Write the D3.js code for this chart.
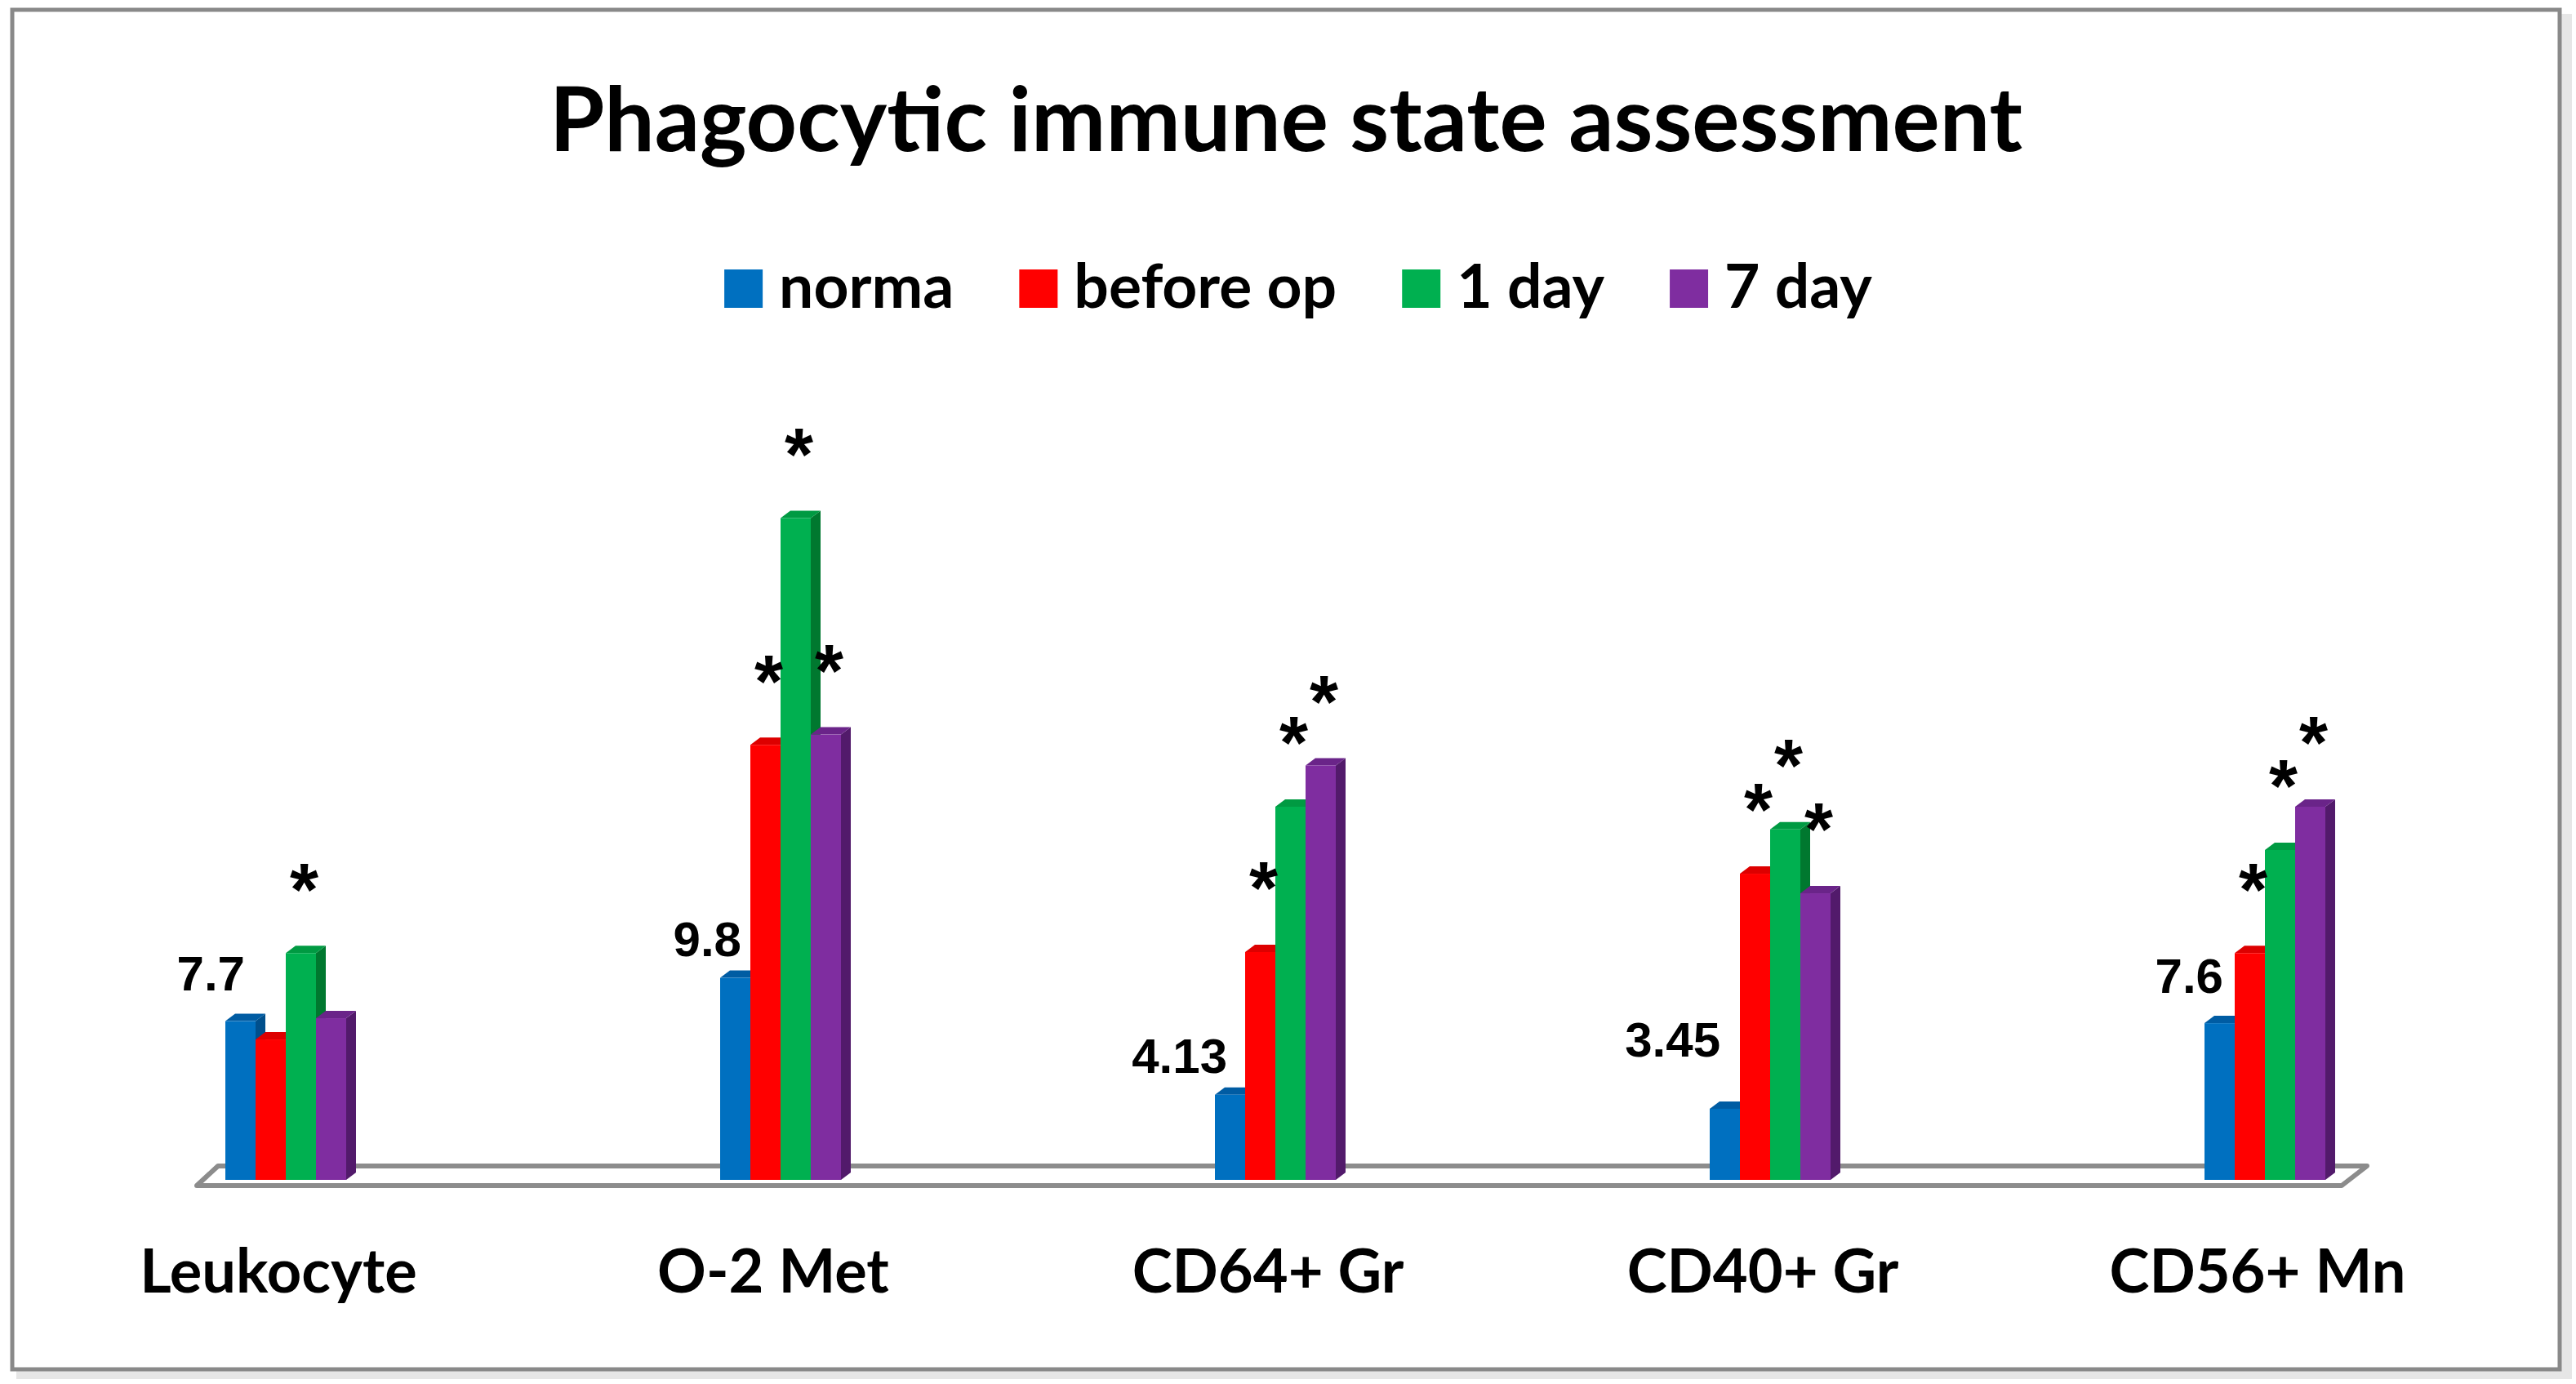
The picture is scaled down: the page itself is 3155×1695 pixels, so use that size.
<!DOCTYPE html>
<html>
<head>
<meta charset="utf-8">
<script src="https://cdn.jsdelivr.net/npm/d3@7"></script>
<style>
  html, body { margin: 0; padding: 0; background: #fff; }
  svg { display: block; }
</style>
</head>
<body>
<svg id="chart" width="3155" height="1695"></svg>
<script>
// Chart data
const categories = ["Leukocyte", "O-2 Met", "CD64+ Gr", "CD40+ Gr", "CD56+ Mn"];
const seriesNames = ["norma", "before op", "1 day", "7 day"];
const seriesColors = ["#0070C0", "#FF0000", "#00B050", "#7F2DA0"];
const topColors = ["#005CA3", "#DD0000", "#009A42", "#6A2489"];
const sideColors = ["#004F8C", "#B80000", "#00782F", "#521A6B"];

const norma = [7.7, 9.8, 4.13, 3.45, 7.6];
const beforeOp = [6.81, 21.1, 11.05, 14.85, 11.0];
const day1 = [11.0, 32.1, 18.1, 17.0, 16.0];
const day7 = [7.84, 21.6, 20.1, 13.9, 18.1];

// normal value labels written over the blue bars
const normaLabels = ["7.7", "9.8", "4.13", "3.45", "7.6"];

// significance marks (1 = asterisk) per series, per category
const starsBeforeOp = [0, 1, 1, 1, 1];
const starsDay1 = [1, 1, 1, 1, 1];
const starsDay7 = [0, 1, 1, 1, 1];

const seriesValues = [norma, beforeOp, day1, day7];
const seriesStars = [[0, 0, 0, 0, 0], starsBeforeOp, starsDay1, starsDay7];

// Build the chart
class BarChart3D {
    constructor(svgId) {
        this.svg = d3.select(svgId);
        this.base = 1445;
        this.dx = 12;
        this.dy = 9;

        this.x0 = d3.scalePoint().domain(categories).range([350, 2774]);
        this.x1 = d3.scaleBand().domain(seriesNames).range([-74, 74]).padding(0);
        this.y = d3.scaleLinear().domain([0, 40]).range([this.base, this.base - 40 * 25.25]);
    }

    drawFrame() {
        // faint shadow then grey border
        this.svg.append("rect")
            .attr("x", 20).attr("y", 17).attr("width", 3130).attr("height", 1672)
            .attr("fill", "#e6e6e6");
        this.svg.append("rect")
            .attr("x", 15).attr("y", 12).attr("width", 3120).attr("height", 1665)
            .attr("fill", "#fff").attr("stroke", "#898989").attr("stroke-width", 5);
    }

    drawTitle() {
        this.svg.append("text")
            .attr("x", 1575).attr("y", 185)
            .attr("text-anchor", "middle")
            .attr("font-family", "Lato")
            .attr("font-weight", "bold")
            .attr("font-size", 109)
            .attr("fill", "#000")
            .text("Phagocytic immune state assessment");
    }

    drawLegend() {
        let g = this.svg.append("g").attr("class", "legend");
        let items = g.selectAll("g").data(seriesNames).enter().append("g");
        items.append("rect")
            .attr("width", 47).attr("height", 47)
            .attr("y", 330)
            .attr("fill", (d, i) => seriesColors[i]);
        items.append("text")
            .attr("y", 377)
            .attr("font-family", "Lato")
            .attr("font-weight", "bold")
            .attr("font-size", 75)
            .text(d => d);

        // lay items out one after another using measured text widths
        let cursor = 0;
        items.each(function () {
            let w = d3.select(this).select("text").node().getComputedTextLength();
            d3.select(this).attr("transform", `translate(${cursor},0)`);
            d3.select(this).select("text").attr("x", 47 + 20);
            cursor += 47 + 20 + w + 80;
        });
        let total = cursor - 80;
        g.attr("transform", `translate(${1590 - total / 2},0)`);
    }

    drawFloor() {
        let left = this.x0(categories[0]) - 109;
        let right = this.x0(categories[categories.length - 1]) + 94;
        let pts = [
            [left + 26, this.base - 17],
            [right + 31, this.base - 17],
            [right, this.base + 7],
            [left, this.base + 7]
        ];
        this.svg.append("polygon")
            .attr("points", pts.map(p => p.join(",")).join(" "))
            .attr("fill", "#fff")
            .attr("stroke", "#8c8c8c")
            .attr("stroke-width", 6)
            .attr("stroke-linejoin", "round");
    }

    drawBars() {
        let that = this;
        let rows = [];
        categories.forEach((c, ci) => {
            seriesNames.forEach((s, si) => {
                rows.push({ cat: c, ci: ci, series: s, si: si, value: seriesValues[si][ci], star: seriesStars[si][ci] });
            });
        });

        let w = this.x1.bandwidth();
        let dx = this.dx, dy = this.dy, base = this.base;

        let bars = this.svg.append("g").attr("class", "bars")
            .selectAll("g").data(rows).enter().append("g");

        // right side face
        bars.append("polygon")
            .attr("points", d => {
                let x = that.x0(d.cat) + that.x1(d.series) + w;
                let t = that.y(d.value);
                return [[x, t], [x + dx, t - dy], [x + dx, base - dy], [x, base]].map(p => p.join(",")).join(" ");
            })
            .attr("fill", d => sideColors[d.si]);

        // top face
        bars.append("polygon")
            .attr("points", d => {
                let x = that.x0(d.cat) + that.x1(d.series);
                let t = that.y(d.value);
                return [[x, t], [x + dx, t - dy], [x + w + dx, t - dy], [x + w, t]].map(p => p.join(",")).join(" ");
            })
            .attr("fill", d => topColors[d.si]);

        // front face
        bars.append("rect")
            .attr("x", d => that.x0(d.cat) + that.x1(d.series))
            .attr("y", d => that.y(d.value))
            .attr("width", w)
            .attr("height", d => base - that.y(d.value))
            .attr("fill", d => seriesColors[d.si]);

        // asterisks
        let starSize = 90;
        this.svg.append("g").attr("class", "stars")
            .selectAll("text").data(rows.filter(d => d.star)).enter().append("text")
            .attr("x", d => that.x0(d.cat) + that.x1(d.series) + w / 2 + 4)
            .attr("y", d => that.y(d.value) - 98 + 0.57 * starSize)
            .attr("text-anchor", "middle")
            .attr("font-family", "Liberation Sans")
            .attr("font-weight", "bold")
            .attr("font-size", starSize)
            .text("*");
    }

    drawLabels() {
        let that = this;
        // how far above the blue bar each note sits
        let lift = [38, 27, 27, 64, 37];
        let shift = [24, 26, 15, 13, 23];

        this.svg.append("g").attr("class", "notes")
            .selectAll("text").data(categories).enter().append("text")
            .attr("x", (d, i) => that.x0(d) + that.x1("norma") + shift[i])
            .attr("y", (d, i) => that.y(norma[i]) - lift[i])
            .attr("text-anchor", "end")
            .attr("font-family", "Liberation Sans")
            .attr("font-weight", "bold")
            .attr("font-size", 60)
            .text((d, i) => normaLabels[i]);

        // category axis labels
        this.svg.append("g").attr("class", "x-axis")
            .selectAll("text").data(categories).enter().append("text")
            .attr("x", d => that.x0(d) - 9)
            .attr("y", 1583)
            .attr("text-anchor", "middle")
            .attr("font-family", "Lato")
            .attr("font-weight", "bold")
            .attr("font-size", 74)
            .text(d => d);
    }
}

let chart = new BarChart3D("#chart");
chart.drawFrame();
chart.drawTitle();
chart.drawLegend();
chart.drawFloor();
chart.drawBars();
chart.drawLabels();
</script>
</body>
</html>
